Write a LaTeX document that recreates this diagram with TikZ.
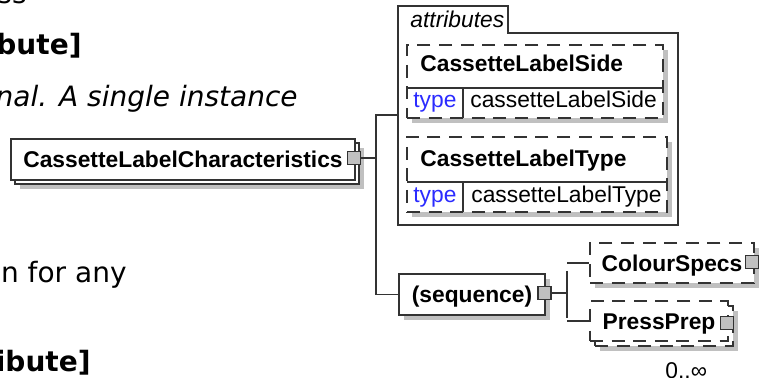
\documentclass[tikz,border=0pt]{standalone}
\usepackage{fontspec}
\newfontfamily\diagfont{Liberation Sans}
\newfontfamily\pagefont{DejaVu Sans}
\definecolor{linec}{HTML}{333333}
\definecolor{shadowc}{HTML}{C0C0C0}
\definecolor{keyc}{HTML}{2B2BFF}
\tikzset{
  conn/.style={draw=linec, line width=0.6pt},
  elbox/.style={draw=linec, fill=white, line width=0.6pt, inner sep=0pt,
    text height=8.3pt, text depth=0pt,
    font=\diagfont\bfseries\fontsize{11.4}{13.7}\selectfont},
  optional/.style={dash pattern=on 6.5pt off 4.3pt},
  boxshadow/.style={preaction={fill=shadowc, draw=none,
    transform canvas={xshift=#1, yshift=-#1}}},
  boxshadow/.default=2.5pt,
  stackcopy/.style={preaction={fill=white, draw=linec,
    transform canvas={xshift=#1, yshift=-#1}}},
  port/.style={draw=linec, fill=shadowc, line width=0.6pt,
    minimum size=6.5pt, inner sep=0pt},
  lbl/.style={inner sep=0pt, anchor=base west,
    font=\diagfont\fontsize{11.4}{13.7}\selectfont},
  lblbold/.style={lbl, font=\diagfont\bfseries\fontsize{11.4}{13.7}\selectfont},
  pagetext/.style={inner sep=0pt, anchor=base east,
    font=\pagefont\fontsize{14}{17}\selectfont},
  pagebold/.style={pagetext, font=\pagefont\bfseries\fontsize{14}{17}\selectfont},
}
\begin{document}
\begin{tikzpicture}[x=0.5pt, y=-0.5pt]
  \useasboundingbox (0,0) rectangle (763,378);

  % page text behind the diagram
  \node[pagetext] (tailss) at (27,4) {ss};
  \node[pagebold] (tailbutea) at (82,55) {bute]};
  \node[pagetext, font=\pagefont\itshape\fontsize{14}{17}\selectfont] (taildesc) at (298,107) {nal. A single instance};
  \node[pagetext] (tailany) at (127,283) {n for any};
  \node[pagebold] (tailbuteb) at (91,371) {ibute]};

  % root element
  \node[elbox, boxshadow=4.5pt, stackcopy=2pt, minimum width=172pt, minimum height=20.5pt] (root) at (183,159.5) {CassetteLabelCharacteristics};
  \node[port] (rootport) at (354,158) {};
  \coordinate (trunk) at (376,158);
  \draw[conn] (rootport) -- (trunk);

  % attributes group
  \draw[conn] (398,225) -- (398,6) -- (508,6) -- (508,33) -- (678,33) -- (678,225) -- cycle;
  \node[lbl, font=\diagfont\itshape\fontsize{11.4}{13.7}\selectfont] (attrlabel) at (410,28) {attributes};
  \coordinate (attrsin) at (398,115);

  % attribute CassetteLabelSide
  \node[elbox, optional, boxshadow, minimum width=128pt, minimum height=36.5pt] (sidebox) at (535,81.5) {};
  \draw[conn] (407,88) -- (663,88) (463,88) -- (463,118);
  \node[lblbold] (sidename) at (420,72) {CassetteLabelSide};
  \node[lbl, text=keyc] (sidekey) at (413,108) {type};
  \node[lbl] (sidetype) at (470,108) {cassetteLabelSide};

  % attribute CassetteLabelType
  \node[elbox, optional, boxshadow, minimum width=130pt, minimum height=37.5pt] (typebox) at (537,174.5) {};
  \draw[conn] (407,182) -- (667,182) (463,182) -- (463,212);
  \node[lblbold] (typename) at (420,167) {CassetteLabelType};
  \node[lbl, text=keyc] (typekey) at (413,203) {type};
  \node[lbl] (typetype) at (471,203) {cassetteLabelType};

  % sequence
  \node[elbox, boxshadow, minimum width=73pt, minimum height=20.5pt] (seq) at (472,294.5) {(sequence)};
  \node[port] (seqport) at (544.5,293) {};
  \draw[conn] (attrsin) -| (trunk) |- (seq.west);

  % children of the sequence
  \node[elbox, optional, boxshadow, minimum width=82pt, minimum height=20pt] (colour) at (672,263) {ColourSpecs};
  \node[port] (colourport) at (752,262) {};
  \node[elbox, optional, boxshadow=5pt, stackcopy=2.5pt, minimum width=69pt, minimum height=20pt] (press) at (659,321) {PressPrep};
  \node[port] (pressport) at (727,323) {};
  \node[lbl] (pressocc) at (665,378.5) {0..∞};

  \coordinate (forktop) at (567,271);
  \coordinate (forkbot) at (567,318);
  \draw[conn] (seqport) -- (seqport -| forktop);
  \draw[conn] (forktop) -- (forkbot);
  \draw[conn] (colour.west -| forktop) -- (colour.west);
  \draw[conn] (press.west -| forktop) -- (press.west);
\end{tikzpicture}
\end{document}
